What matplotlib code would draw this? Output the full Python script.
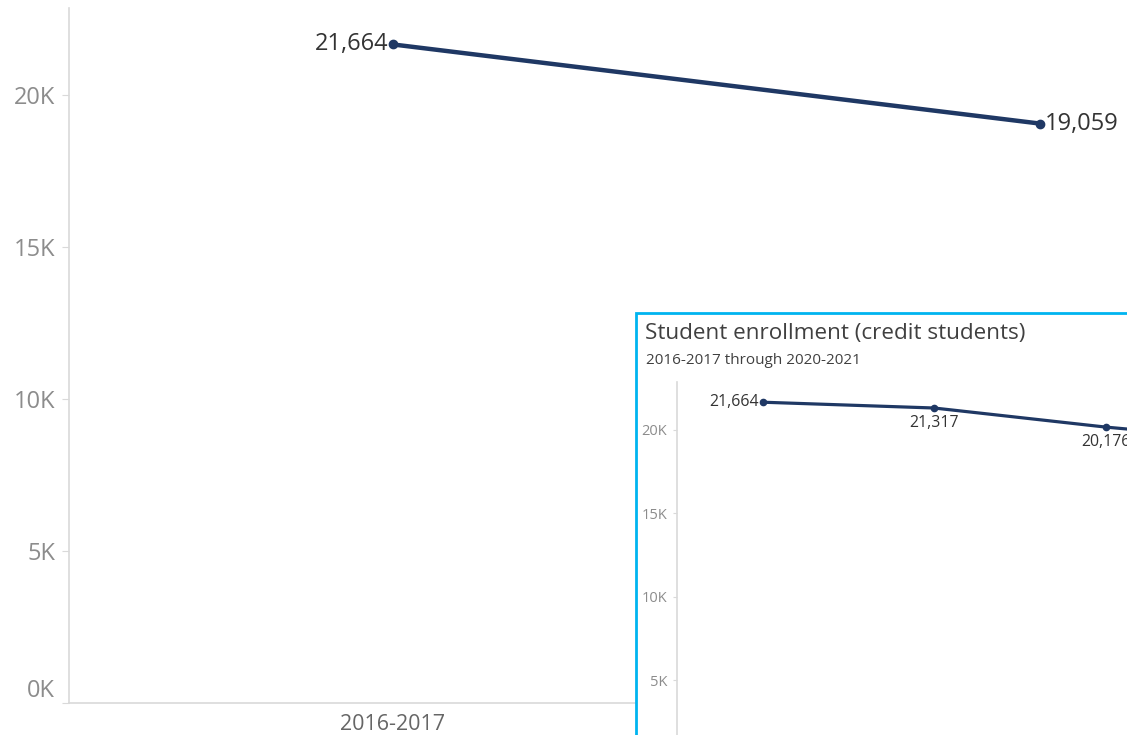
import matplotlib.pyplot as plt
from matplotlib.patches import Rectangle

# main chart (only first and last year shown)
main_years = ['2016-2017', '2020-2021']
main_values = [21664, 19059]

# inset chart
inset_years = ['2016-2017', '2017-2018', '2018-2019', '2019-2020', '2020-2021']
inset_values = [21664, 21317, 20176, 19240, 19059]

tick_vals = [0, 5000, 10000, 15000, 20000]
tick_labels = ['0K', '5K', '10K', '15K', '20K']

line_col = '#1f3864'
grey = '#8c8c8c'
axis_col = '#d9d9d9'
W, H = 1127, 735

plt.rcParams['font.family'] = ['Open Sans', 'DejaVu Sans']

fig = plt.figure(figsize=(W / 100, H / 100), dpi=100)

# ---- main axes (extends past right edge of the figure)
ax = fig.add_axes([69 / W, 32 / H, (1364 - 69) / W, (703 - 8) / H])
ax.plot(range(len(main_years)), main_values, color=line_col, lw=3.2,
        marker='o', ms=6, solid_capstyle='round')
ax.set_xlim(-0.5, 1.5)
ax.set_ylim(0, 22862)
ax.set_yticks(tick_vals)
ax.set_yticklabels(tick_labels)
ax.set_xticks(range(len(main_years)))
ax.set_xticklabels(main_years)
for s in ['top', 'right']:
    ax.spines[s].set_visible(False)
for s in ['left', 'bottom']:
    ax.spines[s].set_color(axis_col)
    ax.spines[s].set_linewidth(1.2)
ax.tick_params(axis='y', colors=axis_col, labelcolor=grey, labelsize=17, length=5, pad=5)
ax.tick_params(axis='x', length=0, labelcolor='#666666', labelsize=15.5, pad=8)
ax.get_yticklabels()[0].set_va('bottom')

ax.annotate(f'{main_values[0]:,}', (0, main_values[0]), xytext=(-3, 0),
            textcoords='offset points', ha='right', va='center', fontsize=17, color='#333333')
ax.annotate(f'{main_values[1]:,}', (1, main_values[1]), xytext=(3, 0),
            textcoords='offset points', ha='left', va='center', fontsize=17, color='#333333')

# ---- inset box
box = Rectangle((636 / W, -0.1), 1, (H - 313) / H + 0.1, transform=fig.transFigure,
                facecolor='white', edgecolor='#00b4f0', lw=2, zorder=2)
fig.patches.append(box)
fig.text(645 / W, 1 - 333 / H, 'Student enrollment (credit students)', fontsize=16.2,
         color='#404040', ha='left', va='center', zorder=3)
fig.text(646 / W, 1 - 360 / H, '2016-2017 through 2020-2021', fontsize=11,
         color='#404040', ha='left', va='center', zorder=3)

ax2 = fig.add_axes([677 / W, (H - 764) / H, (1534 - 677) / W, (764 - 382) / H], zorder=4)
ax2.patch.set_alpha(0)
ax2.plot(range(len(inset_years)), inset_values, color=line_col, lw=2.3,
         marker='o', ms=4.5)
ax2.set_xlim(-0.5, 4.5)
ax2.set_ylim(0, 22874)
ax2.set_yticks(tick_vals)
ax2.set_yticklabels(tick_labels)
ax2.set_xticks(range(len(inset_years)))
ax2.set_xticklabels([])  # year labels fall below the visible area
for s in ['top', 'right']:
    ax2.spines[s].set_visible(False)
for s in ['left', 'bottom']:
    ax2.spines[s].set_color(axis_col)
    ax2.spines[s].set_linewidth(1.2)
ax2.tick_params(axis='y', colors=axis_col, labelcolor=grey, labelsize=10.5, length=3, pad=4)
ax2.tick_params(axis='x', length=0)

ax2.annotate(f'{inset_values[0]:,}', (0, inset_values[0]), xytext=(-3, 0),
             textcoords='offset points', ha='right', va='center', fontsize=11.4, color='#333333')
for i in range(1, len(inset_values)):
    ax2.annotate(f'{inset_values[i]:,}', (i, inset_values[i]), xytext=(0, -10.5),
                 textcoords='offset points', ha='center', va='center', fontsize=11.4,
                 color='#333333')

fig.savefig('out.png', dpi=100)
